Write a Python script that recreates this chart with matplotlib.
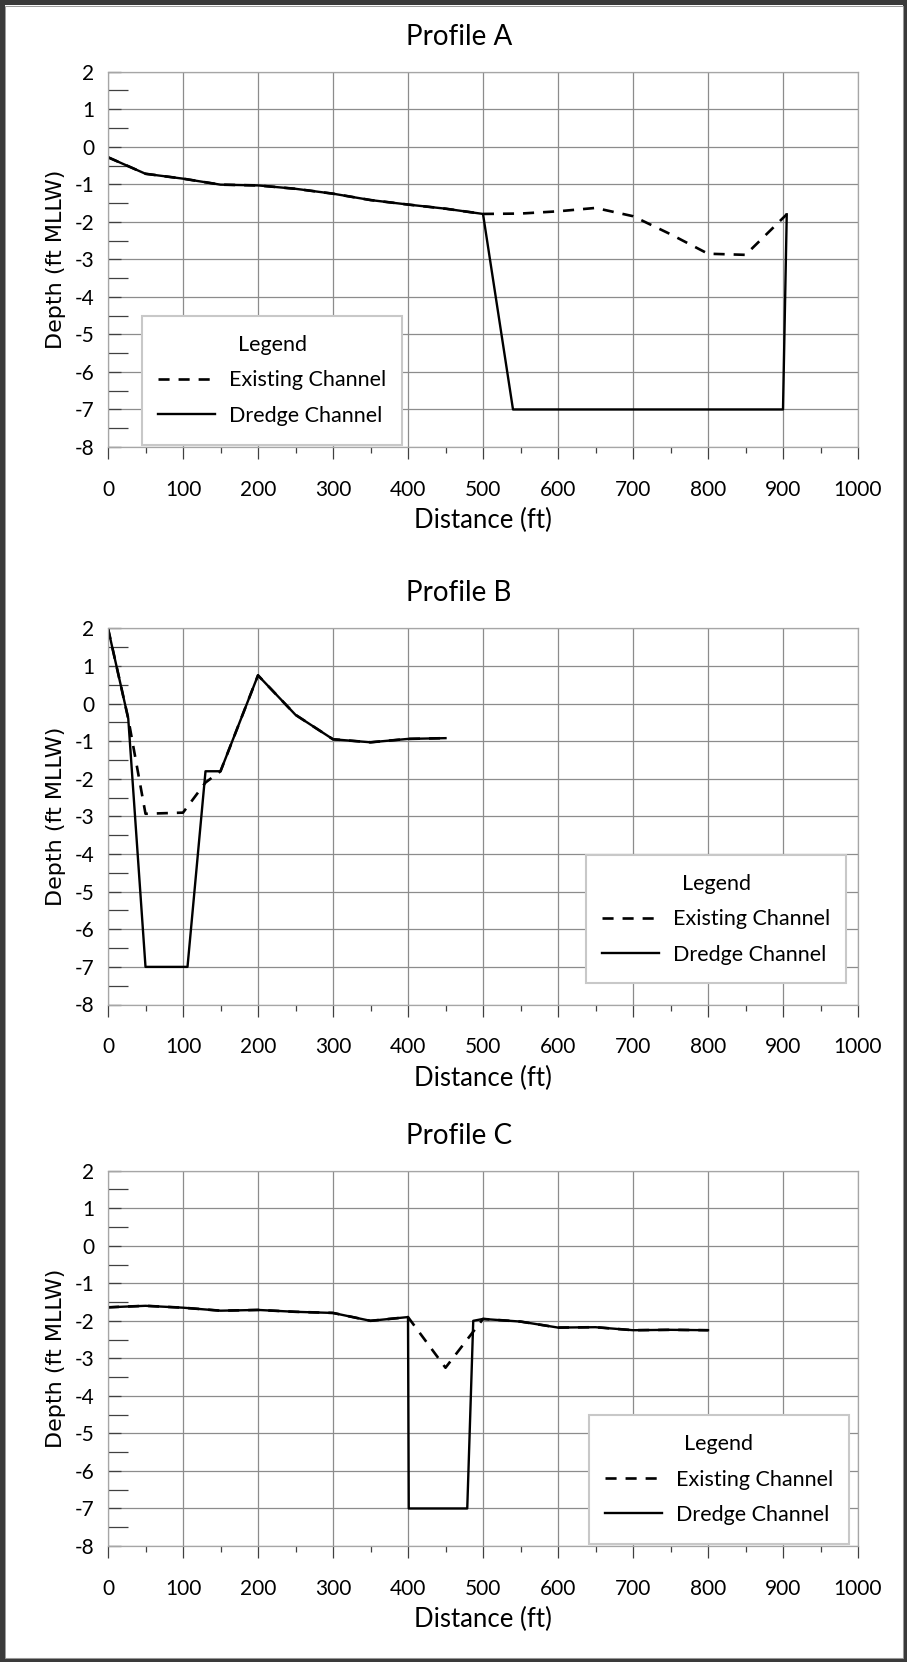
import matplotlib.pyplot as plt
from matplotlib.patches import Rectangle
from matplotlib.ticker import MultipleLocator

plt.rcParams['font.family'] = ['Lato', 'DejaVu Sans']
plt.rcParams['axes.unicode_minus'] = False

# Profile A
dist_a_exist = [0, 50, 100, 150, 200, 250, 300, 350, 400, 450, 500, 550, 600, 650, 700, 750, 800, 850, 905]
depth_a_exist = [-0.28, -0.72, -0.85, -1.01, -1.03, -1.12, -1.25, -1.42, -1.54, -1.65, -1.79,
                 -1.78, -1.72, -1.63, -1.85, -2.33, -2.85, -2.88, -1.8]
dist_a_dredge = [0, 50, 100, 150, 200, 250, 300, 350, 400, 450, 500, 540, 900, 905]
depth_a_dredge = [-0.28, -0.72, -0.85, -1.01, -1.03, -1.12, -1.25, -1.42, -1.54, -1.65, -1.79,
                  -7.0, -7.0, -1.8]

# Profile B
dist_b_exist = [0, 27, 50, 100, 130, 150, 200, 250, 300, 350, 400, 450]
depth_b_exist = [2.0, -0.4, -2.93, -2.9, -2.1, -1.8, 0.75, -0.3, -0.95, -1.03, -0.94, -0.92]
dist_b_dredge = [0, 27, 50, 106, 130, 150, 200, 250, 300, 350, 400, 450]
depth_b_dredge = [2.0, -0.4, -7.0, -7.0, -1.8, -1.8, 0.75, -0.3, -0.95, -1.03, -0.94, -0.92]

# Profile C
dist_c_exist = [0, 50, 100, 150, 200, 250, 300, 350, 400, 450, 500, 550, 600, 650, 700, 750, 800]
depth_c_exist = [-1.64, -1.6, -1.65, -1.73, -1.71, -1.76, -1.79, -2.0, -1.9, -3.25, -1.95,
                 -2.02, -2.18, -2.17, -2.25, -2.24, -2.25]
dist_c_dredge = [0, 50, 100, 150, 200, 250, 300, 350, 400, 401, 479, 487, 500, 550, 600, 650, 700, 750, 800]
depth_c_dredge = [-1.64, -1.6, -1.65, -1.73, -1.71, -1.76, -1.79, -2.0, -1.9, -7.0, -7.0, -2.0, -1.95,
                  -2.02, -2.18, -2.17, -2.25, -2.24, -2.25]

profiles = [
    ('Profile A', dist_a_exist, depth_a_exist, dist_a_dredge, depth_a_dredge),
    ('Profile B', dist_b_exist, depth_b_exist, dist_b_dredge, depth_b_dredge),
    ('Profile C', dist_c_exist, depth_c_exist, dist_c_dredge, depth_c_dredge),
]

W, H = 907, 1662
# axes boxes in pixels: left, top, right, bottom
axes_px = [(108, 71.7, 858, 447), (108, 628.3, 858, 1004.5), (108, 1170.7, 858, 1546)]
# legend frames in pixels: left, top, right, bottom
legend_px = [(142.3, 315.7, 401.7, 445), (586, 855, 846, 983.3), (589, 1415, 849, 1544)]

fig = plt.figure(figsize=(W / 100, H / 100), dpi=100)

for (title, xe, ye, xd, yd), (l, t, r, b), (ll, lt, lr, lb) in zip(profiles, axes_px, legend_px):
    ax = fig.add_axes([l / W, 1 - b / H, (r - l) / W, (b - t) / H])
    ax.set_xlim(0, 1000)
    ax.set_ylim(-8, 2)
    ax.set_axisbelow(True)

    ax.plot(xe, ye, color='black', lw=1.9, linestyle=(0, (4.2, 3.4)), label='Existing Channel')
    ax.plot(xd, yd, color='black', lw=1.7, label='Dredge Channel')

    ax.xaxis.set_major_locator(MultipleLocator(100))
    ax.xaxis.set_minor_locator(MultipleLocator(50))
    ax.yaxis.set_major_locator(MultipleLocator(1))
    ax.yaxis.set_minor_locator(MultipleLocator(0.5))
    ax.grid(True, which='major', color='#8c8c8c', lw=0.9)

    ax.tick_params(axis='x', which='major', direction='out', length=8.6, width=0.9,
                   color='#404040', pad=15, labelsize=15)
    ax.tick_params(axis='x', which='minor', direction='out', length=4.3, width=0.9, color='#404040')
    ax.tick_params(axis='y', which='major', direction='in', length=9.4, width=0.9,
                   color='#404040', pad=10, labelsize=15)
    ax.tick_params(axis='y', which='minor', direction='in', length=14.4, width=0.9, color='#404040')

    for s in ax.spines.values():
        s.set_color('#a6a6a6')
        s.set_linewidth(0.9)

    ax.set_title(title, fontsize=20, pad=19.5, x=(459 - l) / (r - l))
    ax.set_xlabel('Distance (ft)', fontsize=18.5, va='baseline')
    ax.xaxis.set_label_coords(0.5, -0.217)
    ax.set_ylabel('Depth (ft MLLW)', fontsize=16, family='DejaVu Sans', va='center')
    ax.yaxis.set_label_coords((56 - l) / (r - l), 0.5)

    # legend frame drawn separately so its size matches the original box
    ax.add_patch(Rectangle(((ll - l) / (r - l), (b - lb) / (b - t)), (lr - ll) / (r - l), (lb - lt) / (b - t),
                           transform=ax.transAxes, facecolor='white', edgecolor='#c8c8c8',
                           lw=1.5, zorder=4))
    cx = ((ll + lr) / 2 - l) / (r - l)
    cy = (b - (lt + lb) / 2) / (b - t)
    ax.legend(loc='center', bbox_to_anchor=(cx, cy), frameon=False, title='Legend',
              fontsize=15.5, title_fontsize=15.5, handlelength=2.65, handletextpad=0.68,
              labelspacing=0.72, borderpad=0.5)

# outer frame
fig.add_artist(Rectangle((0, 0), 1, 1, transform=fig.transFigure, fill=False,
                         edgecolor='#3a3a3a', lw=6.5))
fig.add_artist(Rectangle((5 / W, 4 / H), 1 - 9.5 / W, 1 - 9.5 / H, transform=fig.transFigure,
                         fill=False, edgecolor='#9a9a9a', lw=0.7))

fig.savefig('out.png', dpi=100)
